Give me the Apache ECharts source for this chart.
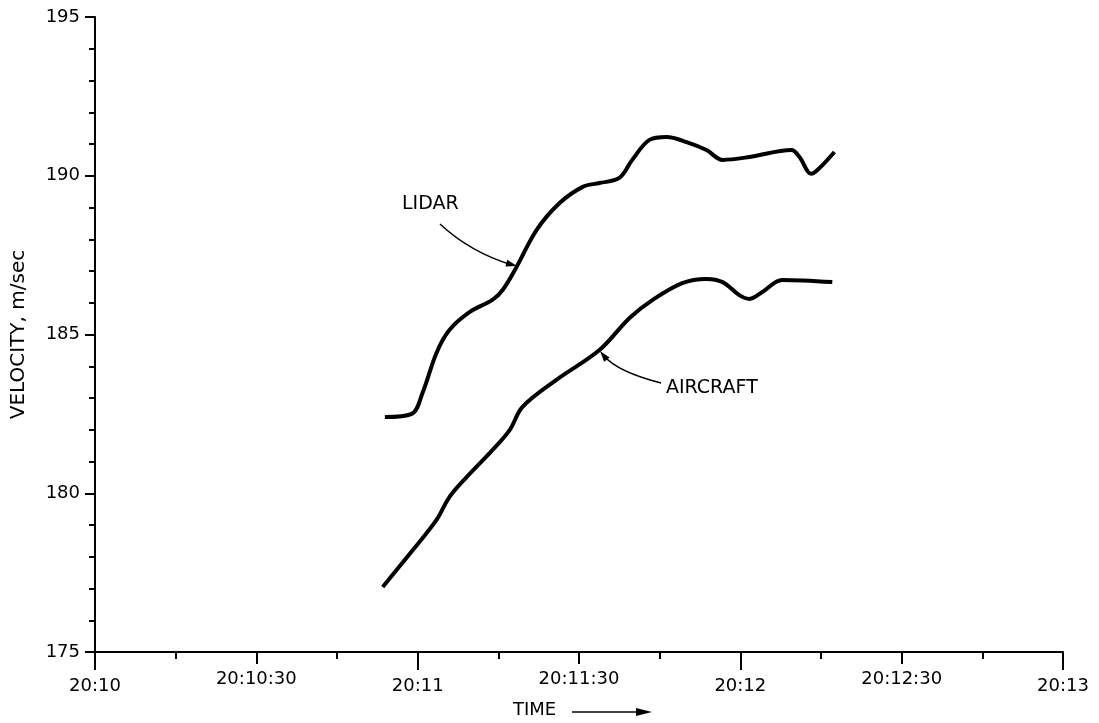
<!DOCTYPE html>
<html>
<head>
<meta charset="utf-8">
<script src="https://cdn.jsdelivr.net/npm/echarts@6/dist/echarts.min.js"></script>
<style>
html, body { margin: 0; padding: 0; background: #fff; }
#main { width: 1099px; height: 723px; }
</style>
</head>
<body>
<div id="main"></div>
<script>
// time in seconds after 20:10:00
var lidar_time = [53.9, 58.9, 60.9, 63.5, 65.9, 69.7, 73.9, 75.8, 78.4, 82.1, 86.4, 90.7, 93.8, 97.5, 99.9, 103.1, 106.3, 110.0, 113.7, 116.7, 121.7, 129.5, 131.0, 133.2, 134.7, 137.5];
var lidar_velocity = [182.40, 182.50, 183.16, 184.42, 185.14, 185.71, 186.09, 186.40, 187.13, 188.29, 189.14, 189.65, 189.77, 189.93, 190.50, 191.13, 191.22, 191.06, 190.81, 190.50, 190.59, 190.81, 190.59, 190.06, 190.24, 190.75];

var aircraft_time = [53.5, 59.1, 63.5, 65.9, 69.1, 73.9, 77.1, 79.5, 85.8, 93.8, 99.4, 103.7, 109.2, 113.7, 116.7, 119.8, 121.7, 124.1, 127.8, 137.1];
var aircraft_velocity = [177.05, 178.21, 179.16, 179.88, 180.51, 181.36, 181.99, 182.72, 183.57, 184.51, 185.52, 186.09, 186.62, 186.75, 186.65, 186.24, 186.12, 186.34, 186.72, 186.65];

var time_ticks = ['20:10', '20:10:30', '20:11', '20:11:30', '20:12', '20:12:30', '20:13'];

function zip(xs, ys) {
    var out = [];
    for (var i = 0; i < xs.length; i++) {
        out.push([xs[i], ys[i]]);
    }
    return out;
}

// small triangle at tip, pointing away from "from"
function arrow_head(tip, from, len, half) {
    var dx = tip[0] - from[0], dy = tip[1] - from[1];
    var d = Math.sqrt(dx * dx + dy * dy);
    var ux = dx / d, uy = dy / d;
    var bx = tip[0] - ux * len, by = tip[1] - uy * len;
    return {
        type: 'polygon',
        shape: {points: [tip, [bx - uy * half, by + ux * half], [bx + uy * half, by - ux * half]]},
        style: {fill: '#000'}
    };
}

var font = 'DejaVu Sans';
var chart = echarts.init(document.getElementById('main'));

chart.setOption({
    animation: false,
    backgroundColor: '#fff',
    grid: {left: 95, right: 36, top: 17, bottom: 71},
    xAxis: [
        {
            type: 'value',
            min: 0,
            max: 180,
            interval: 30,
            position: 'bottom',
            axisLine: {lineStyle: {color: '#000', width: 2}},
            axisTick: {length: 12, lineStyle: {color: '#000', width: 2}},
            minorTick: {show: true, splitNumber: 2, length: 7, lineStyle: {color: '#000', width: 2}},
            splitLine: {show: false},
            minorSplitLine: {show: false},
            axisLabel: {
                margin: 18,
                color: '#000',
                fontFamily: font,
                fontSize: 18,
                formatter: function (v) {
                    return v % 60 ? time_ticks[v / 30] : '';
                }
            }
        },
        {
            type: 'value',
            min: 0,
            max: 180,
            interval: 60,
            position: 'bottom',
            axisLine: {show: false},
            axisTick: {length: 18, lineStyle: {color: '#000', width: 2}},
            splitLine: {show: false},
            axisLabel: {
                margin: 25,
                color: '#000',
                fontFamily: font,
                fontSize: 18,
                formatter: function (v) {
                    return time_ticks[v / 30];
                }
            }
        }
    ],
    yAxis: {
        type: 'value',
        min: 175,
        max: 195,
        interval: 5,
        name: 'VELOCITY, m/sec',
        nameLocation: 'middle',
        nameGap: 66,
        nameTextStyle: {color: '#000', fontFamily: font, fontSize: 20},
        axisLine: {show: true, lineStyle: {color: '#000', width: 2}},
        axisTick: {show: true, length: 10, lineStyle: {color: '#000', width: 2}},
        minorTick: {show: true, splitNumber: 5, length: 6, lineStyle: {color: '#000', width: 2}},
        splitLine: {show: false},
        minorSplitLine: {show: false},
        axisLabel: {margin: 15, color: '#000', fontFamily: font, fontSize: 18}
    },
    series: [
        {
            name: 'LIDAR',
            type: 'line',
            smooth: 0.35,
            showSymbol: false,
            lineStyle: {color: '#000', width: 4},
            data: zip(lidar_time, lidar_velocity)
        },
        {
            name: 'AIRCRAFT',
            type: 'line',
            smooth: 0.35,
            showSymbol: false,
            lineStyle: {color: '#000', width: 4},
            data: zip(aircraft_time, aircraft_velocity)
        }
    ],
    graphic: [
        {type: 'text', left: 402, top: 195, style: {text: 'LIDAR', fill: '#000', font: '19px ' + font}},
        {
            type: 'bezierCurve',
            shape: {x1: 440, y1: 224, cpx1: 470, cpy1: 252, x2: 512, y2: 265},
            style: {stroke: '#000', lineWidth: 1.5, fill: null}
        },
        arrow_head([517, 266], [502, 262], 11, 3.5),
        {type: 'text', left: 666, top: 379, style: {text: 'AIRCRAFT', fill: '#000', font: '19px ' + font}},
        {
            type: 'bezierCurve',
            shape: {x1: 661, y1: 383, cpx1: 618, cpy1: 372, x2: 604, y2: 356},
            style: {stroke: '#000', lineWidth: 1.5, fill: null}
        },
        arrow_head([600, 351], [608, 361], 11, 3.5),
        {type: 'text', left: 513, top: 701, style: {text: 'TIME', fill: '#000', font: '18px ' + font}},
        {
            type: 'line',
            shape: {x1: 572, y1: 712, x2: 640, y2: 712},
            style: {stroke: '#000', lineWidth: 1.5}
        },
        arrow_head([652, 712], [638, 712], 16, 4)
    ]
});
</script>
</body>
</html>
